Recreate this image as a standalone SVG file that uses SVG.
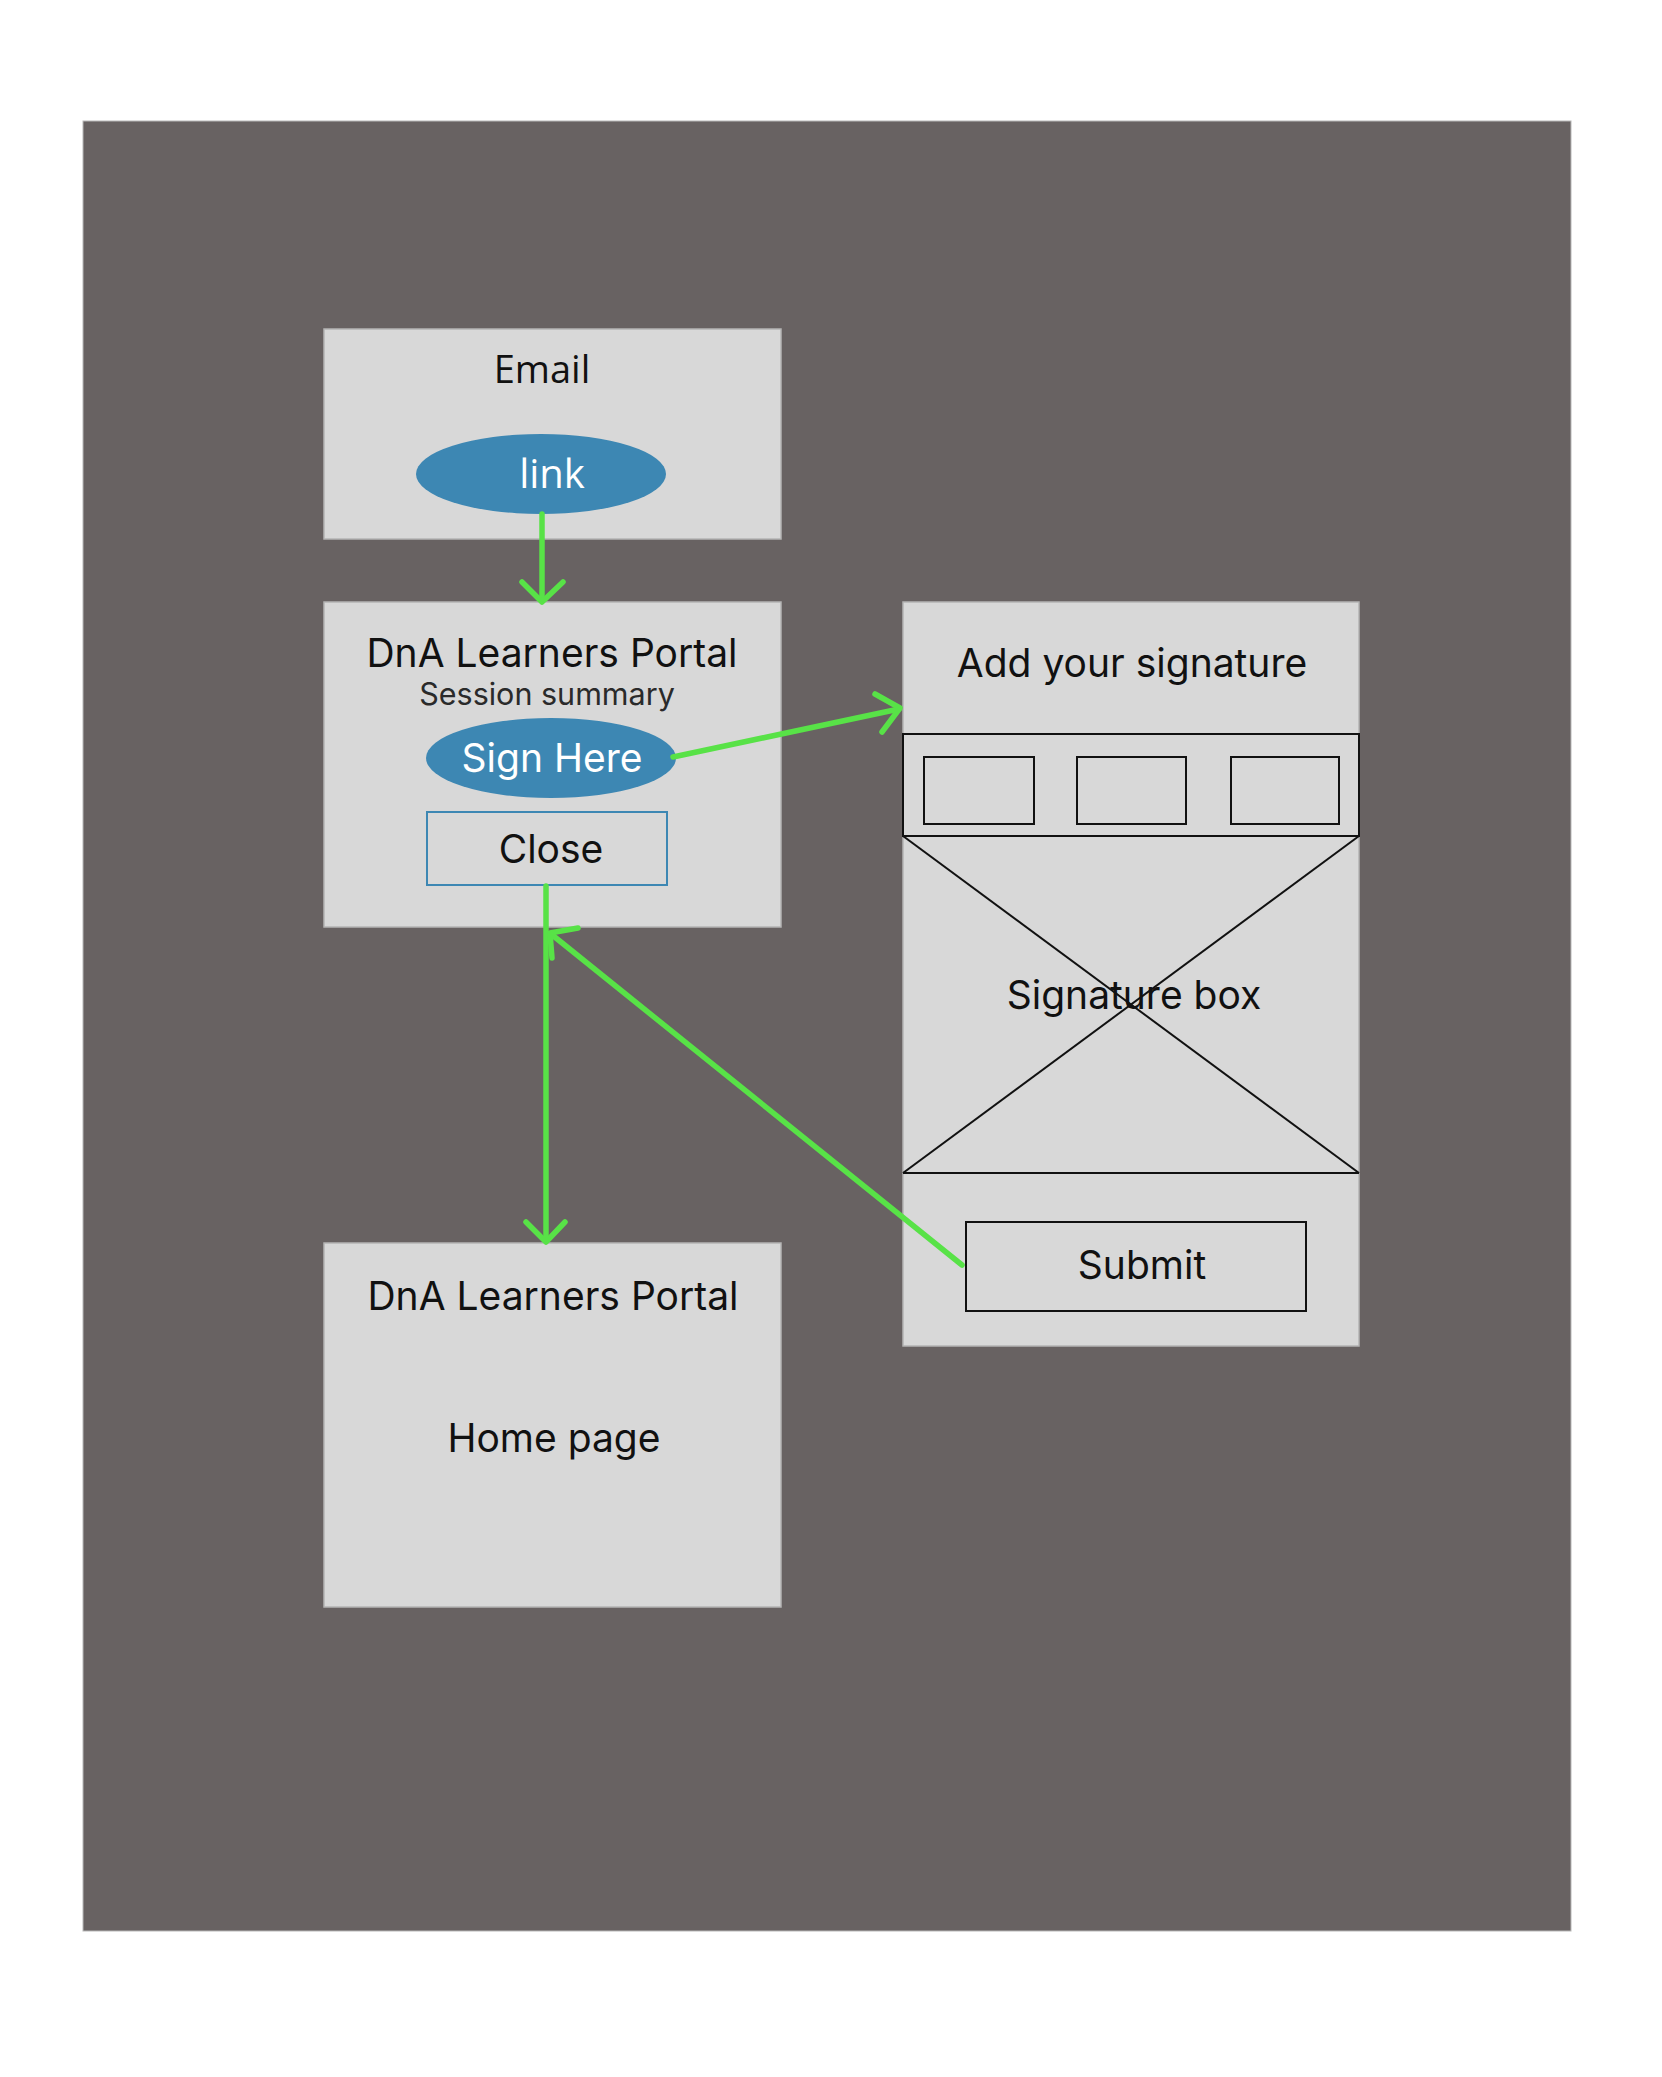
<svg xmlns="http://www.w3.org/2000/svg" width="1662" height="2077" viewBox="0 0 1662 2077">
  <defs>
    <style>
      .box { fill: #d8d8d8; stroke: #b4b4b4; stroke-width: 1.5; }
      .t { font-family: Inter, "Noto Sans", "Liberation Sans", sans-serif; fill: #111; text-anchor: middle; }
      .os { font-family: "Open Sans", "Noto Sans", "Liberation Sans", sans-serif; text-anchor: middle; }
      .pill { fill: #3d87b3; }
      .wire { fill: none; stroke: #111; stroke-width: 2; }
      .conn { fill: none; stroke: #58e247; stroke-width: 5.5; stroke-linecap: round; stroke-linejoin: round; }
    </style>
  </defs>
  <rect x="0" y="0" width="1662" height="2077" fill="#ffffff"/>
  <rect x="83" y="121" width="1488" height="1810" fill="#686262" stroke="#b8b8b8" stroke-width="1"/>

  <g id="email">
    <rect class="box" x="324" y="329" width="457" height="210"/>
    <text class="os" x="542" y="383" font-size="38" fill="#111">Email</text>
    <ellipse class="pill" cx="541" cy="474" rx="125" ry="40"/>
    <text class="os" x="552" y="488" font-size="40" fill="#ffffff">link</text>
  </g>

  <g id="session-summary">
    <rect class="box" x="324" y="602" width="457" height="325"/>
    <text class="t" x="552" y="667" font-size="39">DnA Learners Portal</text>
    <text class="t" x="547" y="705" font-size="30.5" style="fill:#2a2a2a">Session summary</text>
    <ellipse class="pill" cx="551" cy="758" rx="125" ry="40"/>
    <text class="t" x="552" y="772" font-size="39" style="fill:#ffffff">Sign Here</text>
    <rect x="427" y="812" width="240" height="73" fill="none" stroke="#3d87b3" stroke-width="2"/>
    <text class="t" x="551" y="863" font-size="39">Close</text>
  </g>

  <g id="signature">
    <rect class="box" x="903" y="602" width="456" height="744"/>
    <text class="t" x="1132" y="677" font-size="39">Add your signature</text>
    <rect class="wire" x="903" y="734" width="456" height="102"/>
    <rect class="wire" x="924" y="757" width="110" height="67"/>
    <rect class="wire" x="1077" y="757" width="109" height="67"/>
    <rect class="wire" x="1231" y="757" width="108" height="67"/>
    <line class="wire" x1="903" y1="836" x2="1359" y2="1173" stroke-width="1.5"/>
    <line class="wire" x1="1359" y1="836" x2="903" y2="1173" stroke-width="1.5"/>
    <line class="wire" x1="903" y1="1173" x2="1359" y2="1173"/>
    <text class="t" x="1134" y="1009" font-size="39">Signature box</text>
    <rect class="wire" x="966" y="1222" width="340" height="89"/>
    <text class="t" x="1142" y="1279" font-size="39">Submit</text>
  </g>

  <g id="home">
    <rect class="box" x="324" y="1243" width="457" height="364"/>
    <text class="t" x="553" y="1310" font-size="39">DnA Learners Portal</text>
    <text class="t" x="554" y="1452" font-size="39">Home page</text>
  </g>

  <g id="connectors">
    <path class="conn" d="M542 514 L542 601"/>
    <path class="conn" d="M522 582 L542 602 L563 582"/>
    <path class="conn" d="M673 757 L899 709"/>
    <path class="conn" d="M875 694 L900 708 L882 732"/>
    <path class="conn" d="M546 886 L546 1241"/>
    <path class="conn" d="M526 1222 L546 1242 L565 1222"/>
    <path class="conn" d="M962 1265 L551 934"/>
    <path class="conn" d="M578 928 L550 933 L552 958"/>
  </g>
</svg>
